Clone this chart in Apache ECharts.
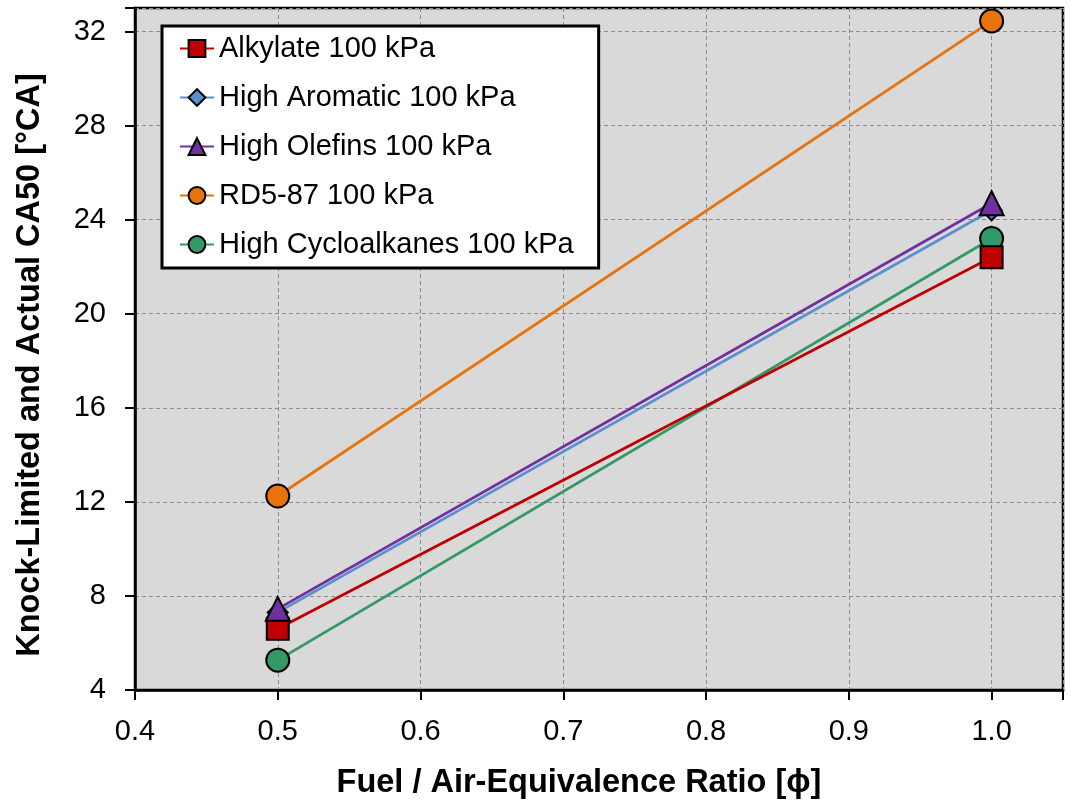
<!DOCTYPE html>
<html><head><meta charset="utf-8">
<script src="https://cdn.jsdelivr.net/npm/echarts@6/dist/echarts.min.js"></script>
<style>html,body{margin:0;padding:0;background:#fff}#c{width:1071px;height:805px}</style>
</head><body><div id="c"></div>
<script>
const xValues = [0.5, 1.0];
const seriesNames = ["Alkylate 100 kPa","High Aromatic 100 kPa","High Olefins 100 kPa","RD5-87 100 kPa","High Cycloalkanes 100 kPa"];
const alkylate = [6.6, 22.4];
const highAromatic = [7.3, 24.4];
const highOlefins = [7.45, 24.7];
const rd587 = [12.25, 32.45];
const highCycloalkanes = [5.27, 23.2];
const colors = ["#C00000","#5B8FD0","#7030A0","#E8730C","#339966"];
const symbols = ["rect","diamond","triangle","circle","circle"];
const symbolSizes = [22,20,24,23,23];
const allData = [alkylate, highAromatic, highOlefins, rd587, highCycloalkanes];

const chart = echarts.init(document.getElementById('c'));
const font = "Liberation Sans, Arial, sans-serif";
chart.setOption({
  animation:false,
  backgroundColor:'#fff',
  grid:{left:135,right:8,top:8,bottom:113,show:true,backgroundColor:'#D9D9D9',borderColor:'#000',borderWidth:2.5},
  legend:{
    orient:'vertical',left:162,top:26,padding:[7,25,8,17],itemGap:18,
    itemWidth:34,itemHeight:21,
    backgroundColor:'#fff',borderColor:'#000',borderWidth:3,
    textStyle:{fontFamily:font,fontSize:29,lineHeight:31,color:'#000'},
    data:seriesNames
  },
  xAxis:{type:'value',min:0.4,max:1.05,interval:0.1,
    name:'Fuel / Air-Equivalence Ratio [\u03D5]',nameLocation:'middle',nameGap:77,
    nameTextStyle:{fontFamily:font,fontSize:32.5,fontWeight:'bold',color:'#000',padding:[0,40,0,0]},
    axisLine:{show:true,lineStyle:{color:'#000',width:2.5}},
    axisTick:{show:true,inside:false,length:10,lineStyle:{color:'#000',width:2}},
    axisLabel:{fontFamily:font,fontSize:29,color:'#000',margin:27,
      formatter:v=>(Math.abs(v-1.05)<1e-6)?'':v.toFixed(1)},
    splitLine:{show:true,lineStyle:{color:'#8c8c8c',type:[4,3],width:1}}
  },
  yAxis:{type:'value',min:4,max:33,interval:4,
    name:'Knock-Limited and Actual CA50 [\u00B0CA]',nameLocation:'middle',nameGap:88,
    nameTextStyle:{fontFamily:font,fontSize:32.5,fontWeight:'bold',color:'#000',padding:[0,32,0,0]},
    axisLine:{show:true,lineStyle:{color:'#000',width:2.5}},
    axisTick:{show:true,inside:false,length:10,lineStyle:{color:'#000',width:2}},
    axisLabel:{fontFamily:font,fontSize:29,color:'#000',margin:29,
      formatter:v=>(v===33)?'':String(v)},
    splitLine:{show:true,lineStyle:{color:'#8c8c8c',type:[4,3],width:1}}
  },
  series: seriesNames.map((n,i)=>({
    name:n,type:'line',
    data:xValues.map((x,j)=>[x,allData[i][j]]),
    symbol:symbols[i],symbolSize:symbolSizes[i],
    lineStyle:{color:colors[i],width:2.8},
    itemStyle:{color:colors[i],borderColor:'#000',borderWidth:2},
    z:[3,2,4,5,1][i]
  }))
});
</script></body></html>
